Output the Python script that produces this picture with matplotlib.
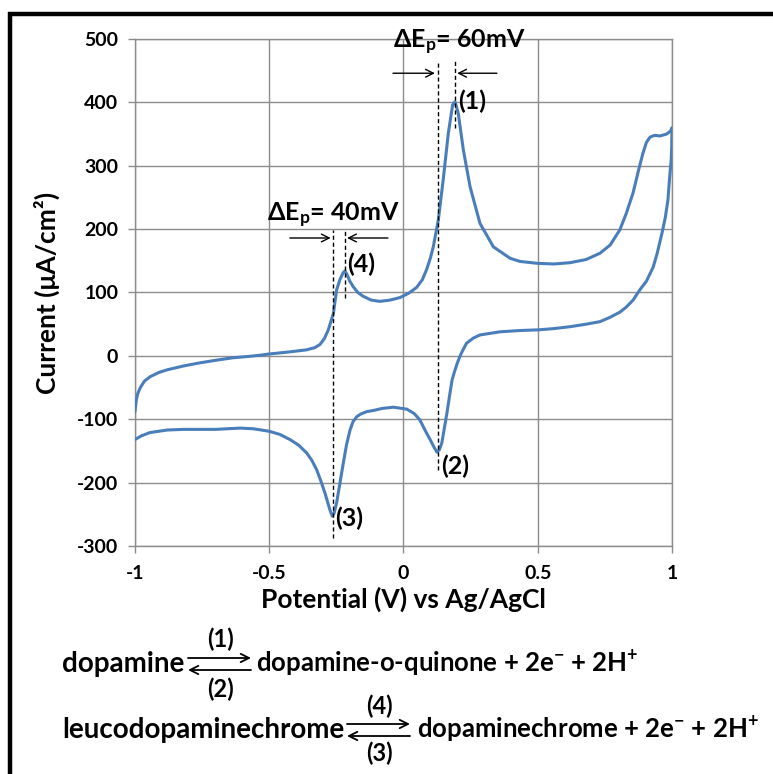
import matplotlib
matplotlib.use("Agg")
import matplotlib.pyplot as plt
from matplotlib.lines import Line2D
from matplotlib.patches import FancyArrowPatch

plt.rcParams['font.family'] = ['Lato', 'DejaVu Sans']
plt.rcParams['font.weight'] = 'bold'
plt.rcParams['axes.unicode_minus'] = False
plt.rcParams['mathtext.fontset'] = 'custom'
plt.rcParams['mathtext.rm'] = 'Lato:bold'
plt.rcParams['mathtext.it'] = 'Lato:bold'
plt.rcParams['mathtext.bf'] = 'Lato:bold'

# ---- data: forward (anodic) scan ----
fwd_x = [-1.000, -0.995, -0.990, -0.980, -0.965, -0.944, -0.910, -0.880, -0.820, -0.758,
         -0.700, -0.635, -0.580, -0.534, -0.500, -0.430, -0.361, -0.330, -0.311, -0.295,
         -0.280, -0.261, -0.249, -0.237, -0.225, -0.218, -0.210, -0.200, -0.187, -0.170,
         -0.150, -0.120, -0.088, -0.050, -0.013, 0.020, 0.049, 0.070, 0.086, 0.100,
         0.111, 0.130, 0.148, 0.167, 0.183, 0.192, 0.204, 0.223, 0.248, 0.285,
         0.335, 0.397, 0.434, 0.500, 0.560, 0.620, 0.680, 0.732, 0.770, 0.806,
         0.830, 0.855, 0.875, 0.892, 0.905, 0.918, 0.935, 0.955, 0.980, 0.995, 1.000]
fwd_y = [-88, -70, -60, -50, -40, -33, -26, -22, -16, -11,
         -7, -3, -1, 1, 3, 6, 9.5, 13, 18, 27,
         41, 67, 104, 120, 131, 134, 128, 118, 109, 100,
         94, 88, 86, 88, 92, 99, 108, 120, 136, 154,
         172, 215, 278, 351, 396, 401, 383, 325, 267, 209,
         172, 154, 149, 146, 145, 147, 152, 162, 175, 199,
         225, 257, 292, 320, 337, 345, 348, 347, 350, 355, 360]

# ---- data: reverse (cathodic) scan ----
rev_x = [1.000, 0.999, 0.997, 0.990, 0.985, 0.975, 0.963, 0.945, 0.930, 0.905,
         0.880, 0.855, 0.830, 0.806, 0.770, 0.732, 0.680, 0.620, 0.560, 0.500,
         0.434, 0.360, 0.285, 0.260, 0.235, 0.220, 0.210, 0.200, 0.190, 0.181,
         0.172, 0.162, 0.152, 0.143, 0.134, 0.125, 0.115, 0.099, 0.080, 0.061,
         0.040, 0.012, -0.038, -0.080, -0.110, -0.137, -0.160, -0.174, -0.188, -0.199,
         -0.212, -0.224, -0.237, -0.249, -0.258, -0.265, -0.274, -0.283, -0.292, -0.308,
         -0.323, -0.341, -0.361, -0.390, -0.423, -0.460, -0.500, -0.560, -0.609, -0.700,
         -0.758, -0.820, -0.880, -0.944, -0.975, -1.000]
rev_y = [358, 330, 309, 275, 246, 218, 194, 162, 140, 118,
         104, 88, 77, 69, 61, 54, 50, 46, 43, 41,
         40, 38, 33, 28, 20, 8, -1, -12, -25, -38,
         -62, -90, -115, -137, -148, -152, -145, -132, -117, -101,
         -91, -84, -81, -83, -86, -88, -92, -96, -104, -117,
         -140, -169, -202, -232, -248, -253, -243, -230, -217, -197,
         -180, -165, -153, -141, -132, -124, -119, -115, -114, -116,
         -116, -116, -117, -121, -126, -132]

x_ticks = [-1, -0.5, 0, 0.5, 1]
x_tick_labels = ['-1', '-0.5', '0', '0.5', '1']
y_ticks = [-300, -200, -100, 0, 100, 200, 300, 400, 500]

# peak potentials used for the ΔEp markers
pair1_x = [0.127, 0.192]    # peaks (2) and (1)
pair2_x = [-0.263, -0.218]  # peaks (3) and (4)

BLUE = '#4a7ebb'
GRID = '#8c8c8c'

fig = plt.figure(figsize=(7.73, 7.74), dpi=100)
ax = fig.add_axes([0.1746, 0.2946, 0.6947, 0.655])

ax.plot(fwd_x + rev_x, fwd_y + rev_y, color=BLUE, lw=2.2, solid_capstyle='round',
        solid_joinstyle='round', zorder=3)

ax.set_xlim(-1, 1)
ax.set_ylim(-300, 500)
ax.set_xticks(x_ticks)
ax.set_xticklabels(x_tick_labels)
ax.set_yticks(y_ticks)
ax.grid(True, color=GRID, lw=1.0)
for s in ax.spines.values():
    s.set_color(GRID)
    s.set_linewidth(1.0)
ax.tick_params(axis='both', direction='out', length=5, width=1.0, color=GRID, labelsize=14)
ax.tick_params(axis='y', pad=7)
ax.tick_params(axis='x', pad=9)
for lab in ax.get_xticklabels() + ax.get_yticklabels():
    lab.set_fontweight('bold')

ax.set_xlabel('Potential (V) vs Ag/AgCl', fontsize=19, fontweight='bold', labelpad=3)
ax.set_ylabel('Current (μA/cm²)', fontsize=19, fontweight='bold', labelpad=12)

# dashed markers
dash = dict(color='black', lw=1.0, ls=(0, (3, 2)), zorder=4)
ax.plot([pair1_x[0]] * 2, [-180, 465], **dash)
ax.plot([pair1_x[1]] * 2, [360, 465], **dash)
ax.plot([pair2_x[0]] * 2, [-287, 199], **dash)
ax.plot([pair2_x[1]] * 2, [91, 199], **dash)

arw = dict(arrowstyle='->', color='black', lw=1.0, mutation_scale=14, shrinkA=0, shrinkB=0)
ax.annotate('', xy=(0.117, 446), xytext=(-0.039, 446), arrowprops=arw)
ax.annotate('', xy=(0.200, 446), xytext=(0.348, 446), arrowprops=arw)
ax.annotate('', xy=(-0.271, 186), xytext=(-0.423, 186), arrowprops=arw)
ax.annotate('', xy=(-0.210, 186), xytext=(-0.058, 186), arrowprops=arw)

ax.text(-0.04, 494, 'ΔE$_{p}$= 60mV', fontsize=18, fontweight='bold', ha='left', va='center')
ax.text(-0.51, 222, 'ΔE$_{p}$= 40mV', fontsize=18, fontweight='bold', ha='left', va='center')

ax.text(0.205, 402, '(1)', fontsize=18, fontweight='bold', ha='left', va='center')
ax.text(0.142, -175, '(2)', fontsize=18, fontweight='bold', ha='left', va='center')
ax.text(-0.255, -257, '(3)', fontsize=18, fontweight='bold', ha='left', va='center')
ax.text(-0.21, 145, '(4)', fontsize=18, fontweight='bold', ha='left', va='center')

# ---- reaction equations (figure pixel coordinates) ----
W, H = 773, 774
def fx(px):
    return px / W
def fy(py):
    return 1 - py / H

fig.text(fx(62), fy(664), 'dopamine', fontsize=20, fontweight='bold', ha='left', va='center')
fig.text(fx(256), fy(664), 'dopamine-o-quinone + 2e$^{-}$ + 2H$^{+}$', fontsize=18.5,
         fontweight='bold', ha='left', va='center')
fig.text(fx(62), fy(730), 'leucodopaminechrome', fontsize=20, fontweight='bold', ha='left', va='center')
fig.text(fx(417), fy(730), 'dopaminechrome + 2e$^{-}$ + 2H$^{+}$', fontsize=18.5,
         fontweight='bold', ha='left', va='center')

small_fs = 17
fig.text(fx(220), fy(639), '(1)', fontsize=small_fs, fontweight='bold', ha='center', va='center')
fig.text(fx(220), fy(689), '(2)', fontsize=small_fs, fontweight='bold', ha='center', va='center')
fig.text(fx(379), fy(706), '(4)', fontsize=small_fs, fontweight='bold', ha='center', va='center')
fig.text(fx(379), fy(753), '(3)', fontsize=small_fs, fontweight='bold', ha='center', va='center')

farw = dict(arrowstyle='->', color='black', lw=1.3, mutation_scale=15, shrinkA=0, shrinkB=0)
def eq_arrows(x0, x1, ymid):
    fig.add_artist(FancyArrowPatch((fx(x0), fy(ymid - 6)), (fx(x1), fy(ymid - 6)),
                                   transform=fig.transFigure, **farw))
    fig.add_artist(FancyArrowPatch((fx(x1), fy(ymid + 6)), (fx(x0), fy(ymid + 6)),
                                   transform=fig.transFigure, **farw))
eq_arrows(188, 251, 664)
eq_arrows(347, 410, 730)

# black frame lines (left and top)
fig.add_artist(Line2D([fx(10), fx(10)], [fy(12), 0], transform=fig.transFigure,
                      color='black', lw=3.2, solid_capstyle='butt'))
fig.add_artist(Line2D([fx(8), 1], [fy(13.5), fy(13.5)], transform=fig.transFigure,
                      color='black', lw=3.2, solid_capstyle='butt'))

fig.savefig('out.png', dpi=100, facecolor='white')
